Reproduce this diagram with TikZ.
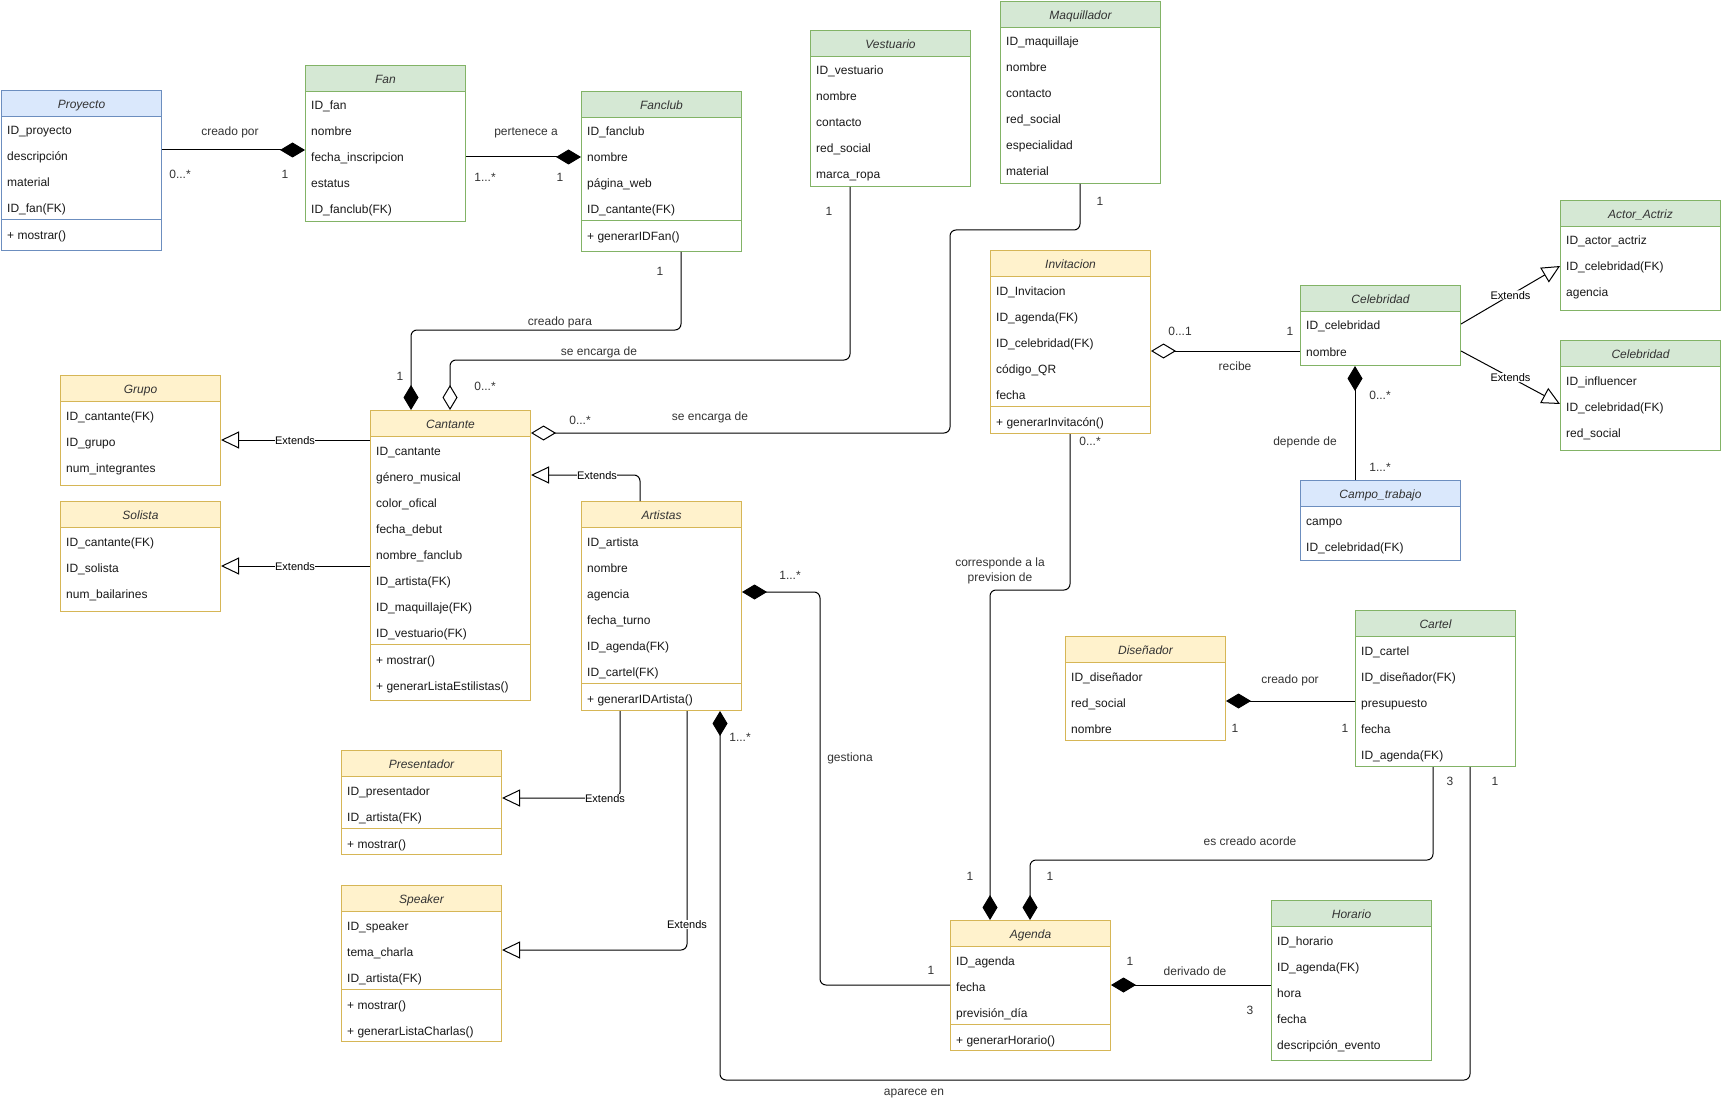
\documentclass[tikz,border=0pt]{standalone}
\usepackage{fontspec}
\setmainfont{Liberation Sans}
\usetikzlibrary{arrows.meta,calc}

\definecolor{greenfill}{HTML}{D5E8D4}
\definecolor{greenline}{HTML}{82B366}
\definecolor{yellowfill}{HTML}{FFF2CC}
\definecolor{yellowline}{HTML}{D6B656}
\definecolor{bluefill}{HTML}{DAE8FC}
\definecolor{blueline}{HTML}{6C8EBF}
\definecolor{inkgray}{HTML}{333333}

\newcommand\umlfont{\fontsize{12}{14}\selectfont}
\newcommand\extfont{\fontsize{11}{13}\selectfont}

\tikzset{
  classbox/.style={draw=#1line, fill=white, line width=1pt, inner sep=0pt, anchor=north west, minimum width=160pt},
  classhead/.style={draw=#1line, fill=#1fill, line width=1pt, inner sep=0pt, anchor=north west,
    minimum width=160pt, minimum height=26pt, text height=10.5pt, text depth=0pt,
    font=\umlfont\itshape, text=inkgray},
  member/.style={anchor=base west, inner sep=0pt, font=\umlfont, text=black!90},
  lbltext/.style={font=\umlfont, inner sep=1pt, text=inkgray, align=center},
  lbl/.style={lbltext, text height=8.6pt, text depth=0pt},
  extlbl/.style={font=\extfont, fill=white, inner sep=0.5pt, text height=8pt, text depth=0pt, text=black},
  conn/.style={draw=black, line width=1pt, rounded corners=6pt},
  compose/.style={conn, -{Diamond[length=25pt,width=15pt]}},
  aggregate/.style={conn, -{Diamond[open,length=25pt,width=15pt]}},
  extends/.style={conn, -{Triangle[open,length=18pt,width=17pt]}},
}

% class box: name, top-left corner, height, palette, title, attributes, operations
\newcommand\umlclass[7]{%
  \node[classbox=#4, minimum height=#3pt] (#1) at (#2) {};
  \node[classhead=#4] (#1-h) at (#2) {#5};
  \foreach \t [count=\i] in {#6} {
    \node[member] (#1-a\i) at ($(#1.north west)+(6,26*\i+19)$) {\t};
    \xdef\nattr{\i}
  }
  \def\umlops{#7}%
  \ifx\umlops\empty\else
    \draw[#4line, line width=1pt] ($(#1.north west)+(0,26+26*\nattr)$) -- ($(#1.north east)+(0,26+26*\nattr)$);
    \foreach \t [count=\j] in {#7} {
      \node[member] (#1-m\j) at ($(#1.north west)+(6,26*\nattr+26*\j+20)$) {\t};
    }
  \fi
}

\begin{document}
\begin{tikzpicture}[x=1pt, y=-1pt]
\useasboundingbox (0,0) rectangle (1721,1107);

% ---------- classes ----------
\umlclass{proyecto}{1,90}{160}{blue}{Proyecto}{ID\_proyecto, descripción, material, ID\_fan(FK)}{+ mostrar()}
\umlclass{fan}{305,65}{156}{green}{Fan}{ID\_fan, nombre, fecha\_inscripcion, estatus, ID\_fanclub(FK)}{}
\umlclass{fanclub}{581,91}{160}{green}{Fanclub}{ID\_fanclub, nombre, página\_web, ID\_cantante(FK)}{+ generarIDFan()}
\umlclass{vestuario}{810,30}{156}{green}{Vestuario}{ID\_vestuario, nombre, contacto, red\_social, marca\_ropa}{}
\umlclass{maquillador}{1000,1}{182}{green}{Maquillador}{ID\_maquillaje, nombre, contacto, red\_social, especialidad, material}{}
\umlclass{invitacion}{990,250}{183}{yellow}{Invitacion}{ID\_Invitacion, ID\_agenda(FK), ID\_celebridad(FK), código\_QR, fecha}{+ generarInvitacón()}
\umlclass{actor}{1560,200}{110}{green}{Actor\_Actriz}{ID\_actor\_actriz, ID\_celebridad(FK), agencia}{}
\umlclass{celebridad}{1300,285}{80}{green}{Celebridad}{ID\_celebridad, nombre}{}
\umlclass{influencer}{1560,340}{110}{green}{Celebridad}{ID\_influencer, ID\_celebridad(FK), red\_social}{}
\umlclass{campo}{1300,480}{80}{blue}{Campo\_trabajo}{campo, ID\_celebridad(FK)}{}
\umlclass{grupo}{60,375}{110}{yellow}{Grupo}{ID\_cantante(FK), ID\_grupo, num\_integrantes}{}
\umlclass{solista}{60,501}{110}{yellow}{Solista}{ID\_cantante(FK), ID\_solista, num\_bailarines}{}
\umlclass{cantante}{370,410}{290}{yellow}{Cantante}{ID\_cantante, género\_musical, color\_ofical, fecha\_debut, nombre\_fanclub, ID\_artista(FK), ID\_maquillaje(FK), ID\_vestuario(FK)}{+ mostrar(), + generarListaEstilistas()}
\umlclass{artistas}{581,501}{209}{yellow}{Artistas}{ID\_artista, nombre, agencia, fecha\_turno, ID\_agenda(FK), ID\_cartel(FK)}{+ generarIDArtista()}
\umlclass{presentador}{341,750}{104}{yellow}{Presentador}{ID\_presentador, ID\_artista(FK)}{+ mostrar()}
\umlclass{speaker}{341,885}{156}{yellow}{Speaker}{ID\_speaker, tema\_charla, ID\_artista(FK)}{+ mostrar(), + generarListaCharlas()}
\umlclass{disenador}{1065,636}{104}{yellow}{Diseñador}{ID\_diseñador, red\_social, nombre}{}
\umlclass{cartel}{1355,610}{156}{green}{Cartel}{ID\_cartel, ID\_diseñador(FK), presupuesto, fecha, ID\_agenda(FK)}{}
\umlclass{agenda}{950,920}{130}{yellow}{Agenda}{ID\_agenda, fecha, previsión\_día}{+ generarHorario()}
\umlclass{horario}{1271,900}{160}{green}{Horario}{ID\_horario, ID\_agenda(FK), hora, fecha, descripción\_evento}{}

% ---------- associations ----------
\draw[compose] ($(proyecto.north east)+(0,60)$) -- ($(fan.north west)+(0,85)$);
\draw[compose] ($(fan.north east)+(0,92)$) -- ($(fanclub.north west)+(0,66)$);
\draw[compose] ($(fanclub.south west)+(100,0)$) |- (411,330) -- ($(cantante.north west)+(41,0)$);
\draw[aggregate] ($(vestuario.south west)+(40,0)$) |- (450,360) -- ($(cantante.north west)+(80,0)$);
\draw[aggregate] ($(maquillador.south west)+(80,0)$) |- (950,230) |- ($(cantante.north east)+(0,23)$);
\draw[compose] ($(cartel.south west)+(115,0)$) |- (720,1080) -- ($(artistas.south west)+(139,0)$);
\draw[compose] ($(agenda.north west)+(0,65)$) -| (820,592) -- ($(artistas.north east)+(0,91)$);
\draw[compose] ($(invitacion.south west)+(80,0)$) |- (990,590) -- ($(agenda.north west)+(40,0)$);
\draw[compose] ($(cartel.south west)+(78,0)$) |- (1030,860) -- ($(agenda.north west)+(80,0)$);
\draw[compose] ($(horario.north west)+(0,85)$) -- ($(agenda.north east)+(0,65)$);
\draw[compose] ($(cartel.north west)+(0,91)$) -- ($(disenador.north east)+(0,65)$);
\draw[aggregate] ($(celebridad.north west)+(0,66)$) -- ($(invitacion.north east)+(0,101)$);
\draw[compose] ($(campo.north west)+(55,0)$) -- ($(celebridad.south west)+(55,0)$);

% ---------- generalisations ----------
\draw[extends] ($(artistas.north west)+(59,0)$) |- ($(cantante.north east)+(0,65)$);
\draw[extends] ($(cantante.north west)+(0,30)$) -- ($(grupo.north east)+(0,65)$);
\draw[extends] ($(cantante.north west)+(0,156)$) -- ($(solista.north east)+(0,65)$);
\draw[extends] ($(artistas.south west)+(39,0)$) |- ($(presentador.north east)+(0,48)$);
\draw[extends] ($(artistas.south west)+(106,0)$) |- ($(speaker.north east)+(0,65)$);
\draw[extends] ($(celebridad.north east)+(0,39)$) -- node[extlbl] (x-actor) {Extends} ($(actor.north west)+(0,66)$);
\draw[extends] ($(celebridad.north east)+(0,66)$) -- node[extlbl] (x-infl) {Extends} ($(influencer.north west)+(0,64)$);

\node[extlbl] (x-artistas) at (597,475) {Extends};
\node[extlbl] (x-grupo) at (295,440) {Extends};
\node[extlbl] (x-solista) at (295,566) {Extends};
\node[extlbl] (x-present) at (605,798) {Extends};
\node[extlbl] (x-speaker) at (687,924) {Extends};

% ---------- association labels ----------
\node[lbl] (l1a) at (230,131) {creado por};
\node[lbl] (l1b) at (180,174) {0...*};
\node[lbl] (l1c) at (285,174) {1};
\node[lbl] (l2a) at (526,131) {pertenece a};
\node[lbl] (l2b) at (485,177) {1...*};
\node[lbl] (l2c) at (560,177) {1};
\node[lbl] (l3a) at (660,271) {1};
\node[lbl] (l3b) at (560,321) {creado para};
\node[lbl] (l3c) at (400,376) {1};
\node[lbl] (l4a) at (829,211) {1};
\node[lbl] (l4b) at (599,351) {se encarga de};
\node[lbl] (l4c) at (485,386) {0...*};
\node[lbl] (l5a) at (1100,201) {1};
\node[lbl] (l5b) at (710,416) {se encarga de};
\node[lbl] (l5c) at (580,420) {0...*};
\node[lbl] (l6a) at (740,737) {1...*};
\node[lbl] (l6b) at (914,1091) {aparece en};
\node[lbl] (l6c) at (1495,781) {1};
\node[lbl] (l7a) at (790,575) {1...*};
\node[lbl] (l7b) at (850,757) {gestiona};
\node[lbl] (l7c) at (931,970) {1};
\node[lbl] (l8a) at (1090,441) {0...*};
\node[lbltext, font=\fontsize{12}{14.5}\selectfont] (l8b) at (1000,571) {corresponde a la\\prevision de};
\node[lbl] (l8c) at (970,876) {1};
\node[lbl] (l9a) at (1450,781) {3};
\node[lbl] (l9b) at (1250,841) {es creado acorde};
\node[lbl] (l9c) at (1050,876) {1};
\node[lbl] (l10a) at (1130,961) {1};
\node[lbl] (l10b) at (1195,971) {derivado de};
\node[lbl] (l10c) at (1250,1010) {3};
\node[lbl] (l11a) at (1290,679) {creado por};
\node[lbl] (l11b) at (1235,728) {1};
\node[lbl] (l11c) at (1345,728) {1};
\node[lbl] (l12a) at (1180,331) {0...1};
\node[lbl] (l12b) at (1290,331) {1};
\node[lbl] (l12c) at (1235,366) {recibe};
\node[lbl] (l13a) at (1380,395) {0...*};
\node[lbl] (l13b) at (1380,467) {1...*};
\node[lbl] (l13c) at (1305,441) {depende de};
\end{tikzpicture}
\end{document}
